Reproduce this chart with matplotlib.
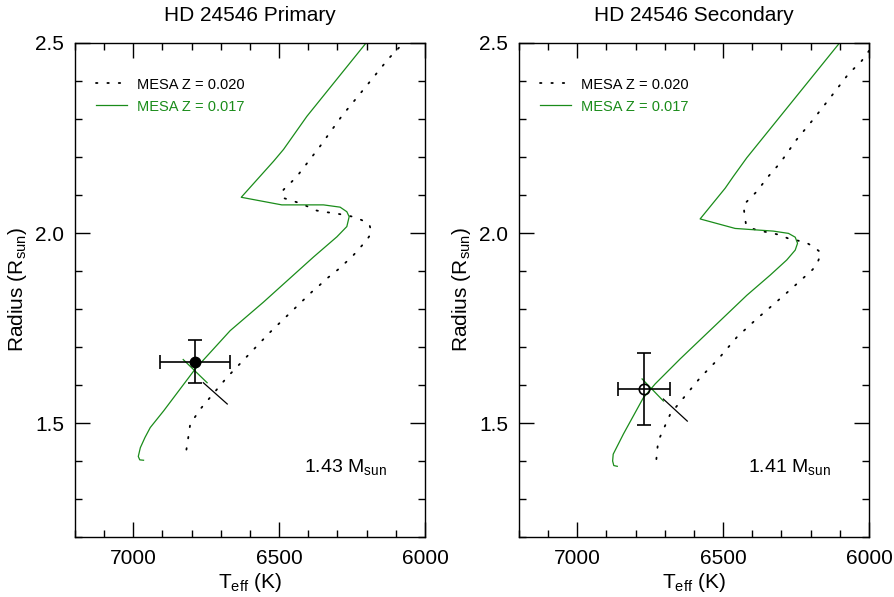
import numpy as np
import matplotlib
matplotlib.use('Agg')
import matplotlib.pyplot as plt
from matplotlib.ticker import MultipleLocator, FormatStrFormatter

plt.rcParams['font.family'] = ['Liberation Sans', 'DejaVu Sans']
plt.rcParams['mathtext.fontset'] = 'custom'
plt.rcParams['mathtext.rm'] = 'Liberation Sans'

GREEN = '#1a8c1a'

# primary: MESA tracks (Teff in K, radius in Rsun)
prim_z020_teff = [6818, 6812, 6805, 6771, 6679, 6531, 6388, 6365, 6340, 6293, 6245,
                  6223, 6200, 6183, 6191, 6217, 6248, 6280, 6310, 6340, 6371, 6403,
                  6431, 6485, 6491, 6485, 6462, 6439, 6360, 6285, 6205, 6126, 6080]
prim_z020_rad = [1.430, 1.460, 1.497, 1.536, 1.620, 1.739, 1.845, 1.860, 1.878, 1.907, 1.942,
                 1.961, 1.981, 2.001, 2.023, 2.034, 2.043, 2.048, 2.052, 2.055, 2.059, 2.070,
                 2.079, 2.092, 2.101, 2.114, 2.131, 2.149, 2.228, 2.308, 2.383, 2.458, 2.495]
prim_z017_teff = [6965, 6978, 6983, 6976, 6960, 6942, 6896, 6788, 6668, 6554, 6502,
                  6382, 6302, 6268, 6260, 6268, 6291, 6348, 6491, 6630, 6519, 6485,
                  6405, 6200]
prim_z017_rad = [1.402, 1.403, 1.412, 1.435, 1.462, 1.488, 1.532, 1.642, 1.743, 1.818, 1.854,
                 1.937, 1.990, 2.017, 2.043, 2.056, 2.068, 2.074, 2.074, 2.094, 2.189, 2.220,
                 2.307, 2.502]

# secondary: MESA tracks
sec_z020_teff = [6729, 6723, 6681, 6579, 6516, 6453, 6385, 6311, 6265, 6216, 6193,
                 6174, 6164, 6191, 6216, 6278, 6307, 6339, 6371, 6402, 6422, 6427,
                 6430, 6407, 6385, 6345, 6305, 6248, 6191, 6128, 6071, 6025, 6008, 5980]
sec_z020_rad = [1.405, 1.452, 1.524, 1.619, 1.669, 1.726, 1.774, 1.823, 1.854, 1.888, 1.904,
                1.927, 1.948, 1.964, 1.975, 1.986, 1.995, 2.001, 2.005, 2.012, 2.024, 2.049,
                2.074, 2.092, 2.109, 2.149, 2.184, 2.246, 2.299, 2.361, 2.418, 2.453, 2.471, 2.500]
sec_z017_teff = [6863, 6875, 6879, 6877, 6842, 6774, 6733, 6647, 6419, 6339, 6282,
                 6253, 6245, 6253, 6276, 6328, 6459, 6579, 6493, 6465, 6419, 6099]
sec_z017_rad = [1.386, 1.388, 1.400, 1.418, 1.471, 1.566, 1.603, 1.669, 1.836, 1.889, 1.929,
                1.955, 1.973, 1.989, 1.999, 2.005, 2.012, 2.037, 2.118, 2.149, 2.198, 2.502]

# observed values
obs_teff = [6790, 6771]
obs_teff_err = [120, 90]
obs_rad = [1.661, 1.590]
obs_rad_err = [0.057, 0.095]

# short isochrone-like segments [teff0, teff1], [rad0, rad1]
prim_seg_green = ([6829, 6747], [1.667, 1.606])
prim_seg_black = ([6760, 6678], [1.606, 1.550])
sec_seg_green = ([6778, 6705], [1.616, 1.558])
sec_seg_black = ([6705, 6623], [1.563, 1.505])

titles = ['HD 24546 Primary', 'HD 24546 Secondary']
masses = [r'1.43 M$_\mathregular{sun}$', r'1.41 M$_\mathregular{sun}$']

fig = plt.figure(figsize=(8.95, 5.97), dpi=100)
ax1 = fig.add_axes([75/895, 1-537/597, 350/895, 494/597])
ax2 = fig.add_axes([519/895, 1-537/597, 350/895, 494/597])

tracks = [
    (prim_z020_teff, prim_z020_rad, prim_z017_teff, prim_z017_rad, prim_seg_green, prim_seg_black),
    (sec_z020_teff, sec_z020_rad, sec_z017_teff, sec_z017_rad, sec_seg_green, sec_seg_black),
]

for i, ax in enumerate([ax1, ax2]):
    t20, r20, t17, r17, sg, sb = tracks[i]
    ax.plot(t20, r20, color='black', lw=1.3, linestyle=(0, (0.8, 5.5)),
            dash_capstyle='round', label='MESA Z = 0.020')
    ax.plot(t17, r17, color=GREEN, lw=0.9, label='MESA Z = 0.017')
    ax.plot(sg[0], sg[1], color=GREEN, lw=0.9)
    ax.plot(sb[0], sb[1], color='black', lw=0.9)

    if i == 0:
        ax.errorbar(obs_teff[i], obs_rad[i], xerr=obs_teff_err[i], yerr=obs_rad_err[i],
                    fmt='o', color='black', ms=7.5, elinewidth=1.2, capsize=5, capthick=1.2)
    else:
        ax.errorbar(obs_teff[i], obs_rad[i], xerr=obs_teff_err[i], yerr=obs_rad_err[i],
                    fmt='o', color='black', mfc='none', mew=1.2, ms=7.5,
                    elinewidth=1.2, capsize=5, capthick=1.2)

    ax.set_xlim(7200, 6000)
    ax.set_ylim(1.2, 2.5)
    ax.xaxis.set_major_locator(MultipleLocator(500))
    ax.xaxis.set_minor_locator(MultipleLocator(100))
    ax.yaxis.set_major_locator(MultipleLocator(0.5))
    ax.yaxis.set_minor_locator(MultipleLocator(0.1))
    ax.tick_params(which='both', direction='in', top=True, right=True, width=1)
    ax.tick_params(which='major', length=11, labelsize=15)
    ax.tick_params(which='minor', length=5)
    ax.tick_params(axis='x', pad=9)
    ax.tick_params(axis='y', pad=8)
    ax.yaxis.set_major_formatter(FormatStrFormatter('%.1f'))
    ax.xaxis.set_major_formatter(FormatStrFormatter('%d'))
    for sp in ax.spines.values():
        sp.set_linewidth(1)

    ax.set_title(titles[i], fontsize=15, pad=16)
    ax.set_xlabel(r'T$_\mathregular{eff}$ (K)', fontsize=15, labelpad=2)
    ax.set_ylabel(r'Radius (R$_\mathregular{sun}$)', fontsize=15, labelpad=4)
    ax.text(0.655, 0.14, masses[i], transform=ax.transAxes, fontsize=14,
            ha='left', va='center')

    leg = ax.legend(loc='upper left', bbox_to_anchor=(0.06, 0.93), frameon=False,
                    fontsize=10.5, handlelength=2.1, handletextpad=0.7,
                    labelspacing=0.55, borderpad=0, borderaxespad=0)
    leg.get_texts()[1].set_color(GREEN)

fig.savefig('out.png', dpi=100)
